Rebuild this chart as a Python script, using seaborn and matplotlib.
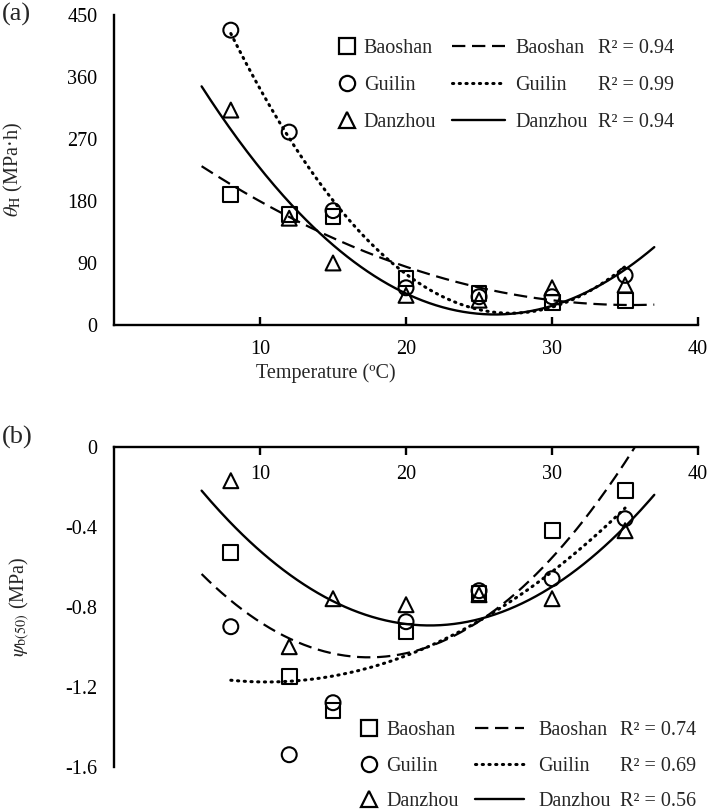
import numpy as np
import pandas as pd
import seaborn as sns
import matplotlib.pyplot as plt
from matplotlib.lines import Line2D

temps = [8, 12, 15, 20, 25, 30, 35]
sites = ["Baoshan", "Guilin", "Danzhou"]

theta_baoshan = [190, 161, 158, 68, 46, 32, 36]
theta_guilin = [428, 280, 166, 54, 41, 41, 72]
theta_danzhou = [312, 155, 90, 43, 36, 54, 58]

psi_baoshan = [-0.53, -1.15, -1.32, -0.925, -0.735, -0.42, -0.22]
psi_guilin = [-0.90, -1.54, -1.28, -0.875, -0.72, -0.66, -0.36]
psi_danzhou = [-0.17, -1.00, -0.76, -0.79, -0.74, -0.76, -0.42]

r2_theta = ["0.94", "0.99", "0.94"]
r2_psi = ["0.74", "0.69", "0.56"]

# x range covered by each trendline
fit_span = {"Baoshan": (6, 37), "Guilin": (8, 35), "Danzhou": (6, 37)}

markers = {"Baoshan": "s", "Guilin": "o", "Danzhou": "^"}
dashes = {"Baoshan": (6, 3), "Guilin": (0.4, 1.8), "Danzhou": ""}
line_w = {"Baoshan": 1.6, "Guilin": 2.2, "Danzhou": 1.7}

FS = 14.5


def long_frame(values):
    rows = []
    for site, vals in zip(sites, values):
        for t, v in zip(temps, vals):
            rows.append({"site": site, "temp": t, "value": v})
    return pd.DataFrame(rows)


def trend_frame(df):
    # quadratic trendline of each site, like the spreadsheet fit
    rows = []
    for site in sites:
        d = df[df.site == site]
        coef = np.polyfit(d.temp, d.value, 2)
        lo, hi = fit_span[site]
        xs = np.linspace(lo, hi, 200)
        for x in xs:
            rows.append({"site": site, "temp": x, "value": np.polyval(coef, x)})
    return pd.DataFrame(rows)


def style_line(line, site):
    if dashes[site]:
        line.set_dashes(dashes[site])
        if site == "Guilin":
            line.set_dash_capstyle("round")


sns.set_theme(style="white")
plt.rcParams["font.family"] = ["Liberation Serif", "DejaVu Serif"]
plt.rcParams["mathtext.fontset"] = "stix"

fig = plt.figure(figsize=(7.08, 8.11), dpi=100)
ax_a = fig.add_axes([0.161, 0.5993, 0.825, 0.3822])
ax_b = fig.add_axes([0.161, 0.0546, 0.825, 0.3946])


def draw_panel(ax, values):
    df = long_frame(values)
    tr = trend_frame(df)
    sns.scatterplot(data=df, x="temp", y="value", style="site", markers=markers,
                    style_order=sites, s=115, facecolors="none", edgecolor="black",
                    linewidth=1.5, legend=False, ax=ax, zorder=3)
    for site in sites:
        sns.lineplot(data=tr[tr.site == site], x="temp", y="value", color="black",
                     lw=line_w[site], ax=ax, zorder=4)
        style_line(ax.get_lines()[-1], site)
    ax.set_xlim(0, 40)
    ax.set_xticks([10, 20, 30, 40])
    for s in ["top", "right"]:
        ax.spines[s].set_visible(False)
    for s in ["left", "bottom"]:
        ax.spines[s].set_linewidth(1.7)
        ax.spines[s].set_color("black")
    ax.tick_params(axis="y", length=0, pad=12, labelsize=FS, colors="black")


def add_legend(ax, r2, mark_x, line_x, r2_x, top_y, line_len, text_pad, spacing):
    mk_handles = [Line2D([], [], ls="none", marker=markers[s], ms=11, mfc="none",
                         mec="black", mew=1.6) for s in sites]
    ln_handles = []
    for s in sites:
        h = Line2D([], [], color="black", lw=line_w[s])
        style_line(h, s)
        ln_handles.append(h)
    kw = dict(loc="upper left", frameon=False, fontsize=FS, borderaxespad=0,
              borderpad=0, labelspacing=spacing)
    leg1 = ax.legend(mk_handles, sites, bbox_to_anchor=(mark_x, top_y),
                     handlelength=1.0, handletextpad=0.35, **kw)
    ax.add_artist(leg1)
    leg2 = ax.legend(ln_handles, sites, bbox_to_anchor=(line_x, top_y),
                     handlelength=line_len, handletextpad=text_pad, **kw)
    fig.canvas.draw()
    inv = ax.transAxes.inverted()
    for t, val in zip(leg2.get_texts(), r2):
        bb = t.get_window_extent()
        _, y0 = inv.transform((0, (bb.y0 + bb.y1) / 2))
        ax.text(r2_x, y0, f"R² = {val}", transform=ax.transAxes, fontsize=FS,
                va="center", ha="left")


# (a) hydrothermal time
draw_panel(ax_a, [theta_baoshan, theta_guilin, theta_danzhou])
ax_a.set_ylim(0, 450)
ax_a.set_yticks([0, 90, 180, 270, 360, 450])
ax_a.tick_params(axis="x", direction="in", length=6, width=1.7, pad=11,
                 labelsize=FS, colors="black", bottom=True)
ax_a.set_xlabel("Temperature (ºC)", fontsize=FS)
ax_a.xaxis.set_label_coords(0.363, -0.123)
ax_a.set_ylabel(r"$\mathit{\theta}_{\mathrm{H}}$ (MPa·h)", fontsize=FS)
ax_a.yaxis.set_label_coords(-0.153, 0.5)
add_legend(ax_a, r2_theta, 0.381, 0.579, 0.829, 0.923, 2.63, 0.5, 0.88)

# (b) base water potential
draw_panel(ax_b, [psi_baoshan, psi_guilin, psi_danzhou])
ax_b.set_ylim(-1.6, 0)
ax_b.set_yticks([0, -0.4, -0.8, -1.2, -1.6])
ax_b.set_yticklabels(["0", "-0.4", "-0.8", "-1.2", "-1.6"])
ax_b.spines["bottom"].set_position(("data", 0))
ax_b.tick_params(axis="x", direction="out", length=6, width=1.7, pad=7,
                 labelsize=FS, colors="black", bottom=True)
ax_b.set_xlabel("")
ax_b.set_ylabel(r"$\mathit{\psi}_{\mathrm{b(50)}}$ (MPa)", fontsize=FS)
ax_b.yaxis.set_label_coords(-0.14, 0.5)
add_legend(ax_b, r2_psi, 0.42, 0.618, 0.866, 0.142, 2.45, 0.7, 0.80)

fig.text(0.003, 0.982, "(a)", fontsize=19, va="center", ha="left")
fig.text(0.003, 0.46, "(b)", fontsize=19, va="center", ha="left")

fig.savefig("out.png", dpi=100)
